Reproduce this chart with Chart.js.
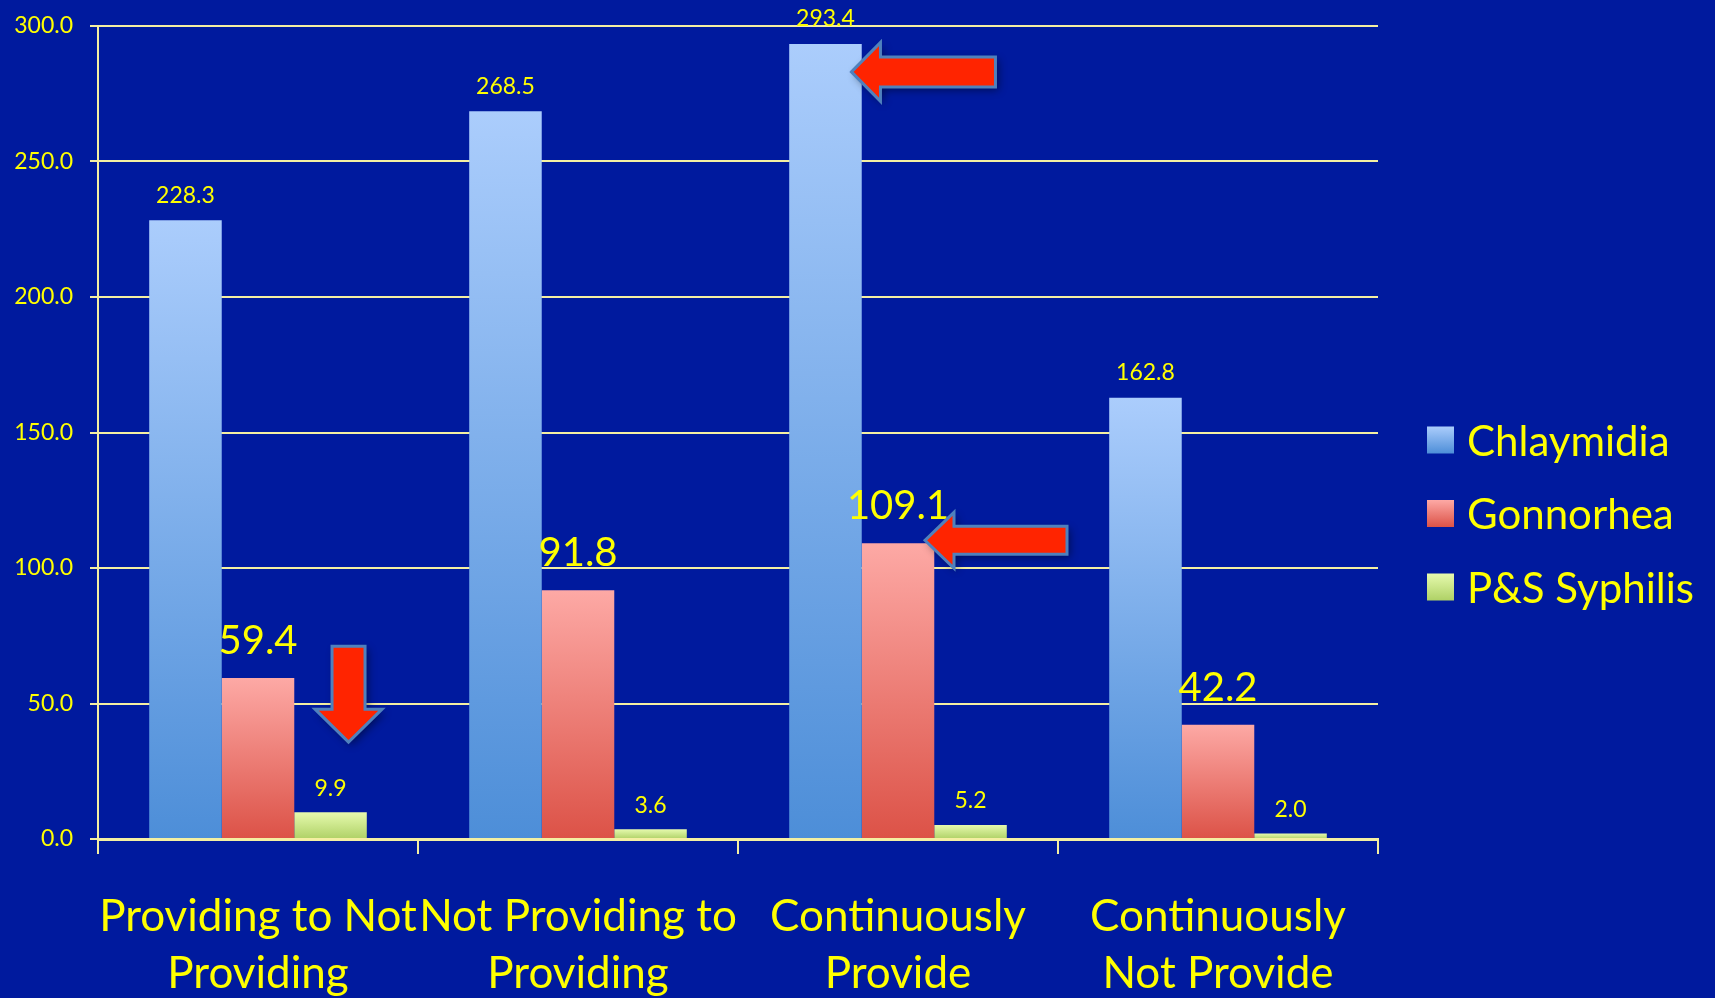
<!DOCTYPE html>
<html>
<head>
<meta charset="utf-8">
<script src="https://cdn.jsdelivr.net/npm/chart.js@4.4.1/dist/chart.umd.min.js"></script>
<style>
  html, body { margin: 0; padding: 0; background: #001A9E; }
  #wrap { width: 1715px; height: 998px; position: relative; }
</style>
</head>
<body>
<div id="wrap"><canvas id="stdChart"></canvas></div>
<script>
// data
const categories = [
  ['Providing to Not', 'Providing'],
  ['Not Providing to', 'Providing'],
  ['Continuously', 'Provide'],
  ['Continuously', 'Not Provide']
]
const chlamydia = [228.3, 268.5, 293.4, 162.8]
const gonorrhea = [59.4, 91.8, 109.1, 42.2]
const syphilis = [9.9, 3.6, 5.2, 2.0]
const seriesNames = ['Chlaymidia', 'Gonnorhea', 'P&S Syphilis']
const yTicks = [0, 50, 100, 150, 200, 250, 300]

const FONT = 'Lato, "Open Sans", sans-serif'
const YELLOW = '#FFFF00'
const GRID = '#F4EFA2'

// top / bottom colour of each series gradient
const shades = [
  ['#ABCDFC', '#4D8ED8'],
  ['#FDA9A5', '#DC5247'],
  ['#E6FAAE', '#AFD166']
]

// per bar gradient, light at the top of the bar, darker at the base
function barGradient(i) {
  return (c) => {
    const chart = c.chart
    if (c.type !== 'data' || !chart.chartArea) return shades[i][1]
    const y = chart.scales.y
    const top = y.getPixelForValue(c.raw)
    const base = y.getPixelForValue(0)
    const g = chart.ctx.createLinearGradient(0, top, 0, Math.max(base, top + 1))
    g.addColorStop(0, shades[i][0])
    g.addColorStop(1, shades[i][1])
    return g
  }
}

// value labels: font size and gap above the bar per series
const labelStyle = [
  { size: 23, gap: 25 },
  { size: 40, gap: 37 },
  { size: 23, gap: 24 }
]

// red arrows from the slide, anchored on a bar
const arrows = [
  { dataset: 2, index: 0, dir: 'down', dx: 18, dy: -70, len: 96, head: 33, headW: 67, shaftW: 33 },
  { dataset: 0, index: 2, dir: 'left', dx: 26, dy: 28, len: 144, head: 29, headW: 59, shaftW: 30 },
  { dataset: 1, index: 2, dir: 'left', dx: 27, dy: -3, len: 142, head: 29, headW: 56, shaftW: 28 }
]

function drawArrow(ctx, x, y, a) {
  ctx.save()
  ctx.translate(x, y)
  if (a.dir === 'down') ctx.rotate(-Math.PI / 2)
  ctx.beginPath()
  ctx.moveTo(0, 0)
  ctx.lineTo(a.head, -a.headW / 2)
  ctx.lineTo(a.head, -a.shaftW / 2)
  ctx.lineTo(a.len, -a.shaftW / 2)
  ctx.lineTo(a.len, a.shaftW / 2)
  ctx.lineTo(a.head, a.shaftW / 2)
  ctx.lineTo(a.head, a.headW / 2)
  ctx.closePath()
  ctx.shadowColor = 'rgba(0,0,0,0.45)'
  ctx.shadowBlur = 8
  ctx.shadowOffsetX = 3
  ctx.shadowOffsetY = 3
  ctx.fillStyle = '#FF2400'
  ctx.fill()
  ctx.shadowColor = 'transparent'
  ctx.lineWidth = 3
  ctx.lineJoin = 'miter'
  ctx.strokeStyle = '#4F81BD'
  ctx.stroke()
  ctx.restore()
}

const extras = {
  id: 'extras',
  afterDatasetsDraw(chart) {
    const ctx = chart.ctx
    ctx.save()
    ctx.fillStyle = YELLOW
    ctx.textAlign = 'center'
    ctx.textBaseline = 'middle'
    chart.data.datasets.forEach((ds, i) => {
      const meta = chart.getDatasetMeta(i)
      ctx.font = labelStyle[i].size + 'px ' + FONT
      meta.data.forEach((bar, j) => {
        ctx.fillText(ds.data[j].toFixed(1), bar.x, bar.y - labelStyle[i].gap)
      })
    })
    ctx.restore()

    arrows.forEach(a => {
      const bar = chart.getDatasetMeta(a.dataset).data[a.index]
      drawArrow(ctx, bar.x + a.dx, bar.y + a.dy, a)
    })
  },
  afterDraw(chart) {
    // legend to the right of the plot
    const ctx = chart.ctx
    const boxX = chart.chartArea.right + 49
    const box = 27
    ctx.save()
    ctx.font = '42px ' + FONT
    ctx.textBaseline = 'middle'
    ctx.textAlign = 'left'
    seriesNames.forEach((name, i) => {
      const cy = 440 + i * 73.5
      const g = ctx.createLinearGradient(0, cy - box / 2, 0, cy + box / 2)
      g.addColorStop(0, shades[i][0])
      g.addColorStop(1, shades[i][1])
      ctx.fillStyle = g
      ctx.fillRect(boxX, cy - box / 2, box, box)
      ctx.fillStyle = YELLOW
      ctx.fillText(name, boxX + box + 13, cy + 2)
    })
    ctx.restore()
  }
}

const ctx = document.getElementById('stdChart').getContext('2d')

const stdChart = new Chart(ctx, {
  type: 'bar',
  data: {
    labels: categories,
    datasets: [
      { label: seriesNames[0], data: chlamydia, backgroundColor: barGradient(0) },
      { label: seriesNames[1], data: gonorrhea, backgroundColor: barGradient(1) },
      { label: seriesNames[2], data: syphilis, backgroundColor: barGradient(2) }
    ]
  },
  options: {
    responsive: true,
    maintainAspectRatio: false,
    animation: false,
    categoryPercentage: 0.68,
    barPercentage: 1.0,
    layout: { padding: { left: 0, top: 26, right: 337, bottom: 0 } },
    plugins: {
      legend: { display: false },
      tooltip: { enabled: false }
    },
    scales: {
      x: {
        afterFit: axis => { axis.height = 159 },
        grid: {
          display: true,
          drawOnChartArea: false,
          drawTicks: true,
          tickLength: 15,
          color: GRID,
          lineWidth: 2
        },
        border: { display: true, color: GRID, width: 3 },
        ticks: {
          autoSkip: false,
          maxRotation: 0,
          minRotation: 0,
          padding: 34,
          color: YELLOW,
          font: { family: FONT, size: 44, lineHeight: 1.3 }
        }
      },
      y: {
        min: 0,
        max: 300,
        afterFit: axis => {
          axis.width = 98
          axis.paddingTop = 0
          axis.paddingBottom = 0
        },
        afterBuildTicks: axis => { axis.ticks = yTicks.map(v => ({ value: v })) },
        grid: {
          color: GRID,
          lineWidth: 2,
          tickLength: 8
        },
        border: { display: true, color: GRID, width: 2 },
        ticks: {
          padding: 17,
          color: YELLOW,
          font: { family: FONT, size: 23 },
          callback: v => Number(v).toFixed(1)
        }
      }
    }
  },
  plugins: [extras]
})
</script>
</body>
</html>
